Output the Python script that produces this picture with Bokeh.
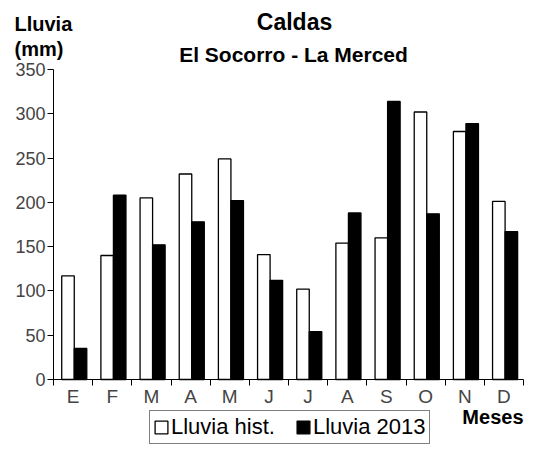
from bokeh.plotting import figure
from bokeh.models import (ColumnDataSource, Range1d, FixedTicker, Label, Legend,
                          LegendItem)
from bokeh.transform import dodge
from bokeh.embed import file_html
from bokeh.resources import INLINE

# ---- data ----
months = ["E", "F", "M", "A", "M", "J", "J", "A", "S", "O", "N", "D"]
lluvia_hist = [117, 140, 205, 232, 249, 141, 102, 154, 160, 302, 280, 201]
lluvia_2013 = [35, 208, 152, 178, 202, 112, 54, 188, 314, 187, 289, 167]
y_ticks = [0, 50, 100, 150, 200, 250, 300, 350]
y_max = 350

n = len(months)
pos = [i + 0.5 for i in range(n)]
bounds = [float(i) for i in range(n + 1)]

src = ColumnDataSource(dict(x=pos, hist=lluvia_hist, y13=lluvia_2013))

# ---- layout (canvas pixels) ----
W, H = 524, 445
FL, FT, FR, FB = 53, 69, 523, 379          # chart area inside the canvas
pxx = (FR - FL) / n
pxy = (FB - FT) / y_max
x_rng = Range1d(-FL / pxx, n + (W - FR) / pxx)
y_rng = Range1d(-(H - FB) / pxy, y_max + FT / pxy)

FONT = "Liberation Sans"
GRAY = "#444444"

p = figure(width=W, height=H, output_backend="svg", toolbar_location=None,
           x_range=x_rng, y_range=y_rng,
           min_border=0, min_border_left=0, min_border_right=0,
           min_border_top=0, min_border_bottom=0)
p.outline_line_color = None
p.xgrid.visible = False
p.ygrid.visible = False
p.background_fill_color = "white"
p.border_fill_color = "white"

r1 = p.vbar(x=dodge("x", -0.13, range=p.x_range), top="hist", width=0.32,
            source=src, fill_color="white", line_color="black", line_width=1.3)
r2 = p.vbar(x=dodge("x", 0.19, range=p.x_range), top="y13", width=0.32,
            source=src, fill_color="black", line_color="black", line_width=1.3)

# y axis
ya = p.yaxis[0]
ya.fixed_location = 0
ya.bounds = (0, y_max)
ya.ticker = FixedTicker(ticks=y_ticks)
ya.axis_line_color = "black"
ya.major_tick_line_color = "black"
ya.major_tick_out = 6
ya.major_tick_in = 0
ya.minor_tick_line_color = None
ya.major_label_standoff = 2
ya.major_label_text_font = FONT
ya.major_label_text_font_size = "18px"
ya.major_label_text_color = GRAY

# x axis
xa = p.xaxis[0]
xa.fixed_location = 0
xa.bounds = (0, n)
xa.ticker = FixedTicker(ticks=pos, minor_ticks=bounds)
xa.major_label_overrides = {x: m for x, m in zip(pos, months)}
xa.axis_line_color = "black"
xa.major_tick_out = 0
xa.major_tick_in = 0
xa.major_tick_line_color = None
xa.minor_tick_line_color = "black"
xa.minor_tick_out = 6
xa.minor_tick_in = 0
xa.major_label_standoff = 0
xa.major_label_text_font = FONT
xa.major_label_text_font_size = "19px"
xa.major_label_text_color = GRAY


def lab(text, x, y, size, align="left", bold=True):
    p.add_layout(Label(x=x, y=y, x_units="screen", y_units="screen", text=text,
                       text_font=FONT, text_font_size=size,
                       text_font_style="bold" if bold else "normal",
                       text_align=align, text_baseline="alphabetic",
                       text_color="black"))


lab("Caldas", 294, H - 21, "23px", "center")
lab("El Socorro - La Merced", 293, H - 53.5, "21px", "center")
lab("Lluvia", 14, H - 23, "20px")
lab("(mm)", 14, H - 48, "20px")
lab("Meses", FR, H - 416, "20px", "right")

legend = Legend(items=[LegendItem(label="Lluvia hist.", renderers=[r1]),
                       LegendItem(label="Lluvia 2013", renderers=[r2])],
                orientation="horizontal", location=(149, 1),
                border_line_color="black", border_line_width=1,
                label_text_font=FONT, label_text_font_size="22px",
                label_text_color="black",
                glyph_width=16, glyph_height=16, label_standoff=2,
                spacing=20, padding=3, margin=0,
                background_fill_color="white", background_fill_alpha=1)
p.add_layout(legend, "center")

open("out.html", "w").write(file_html(p, INLINE))
